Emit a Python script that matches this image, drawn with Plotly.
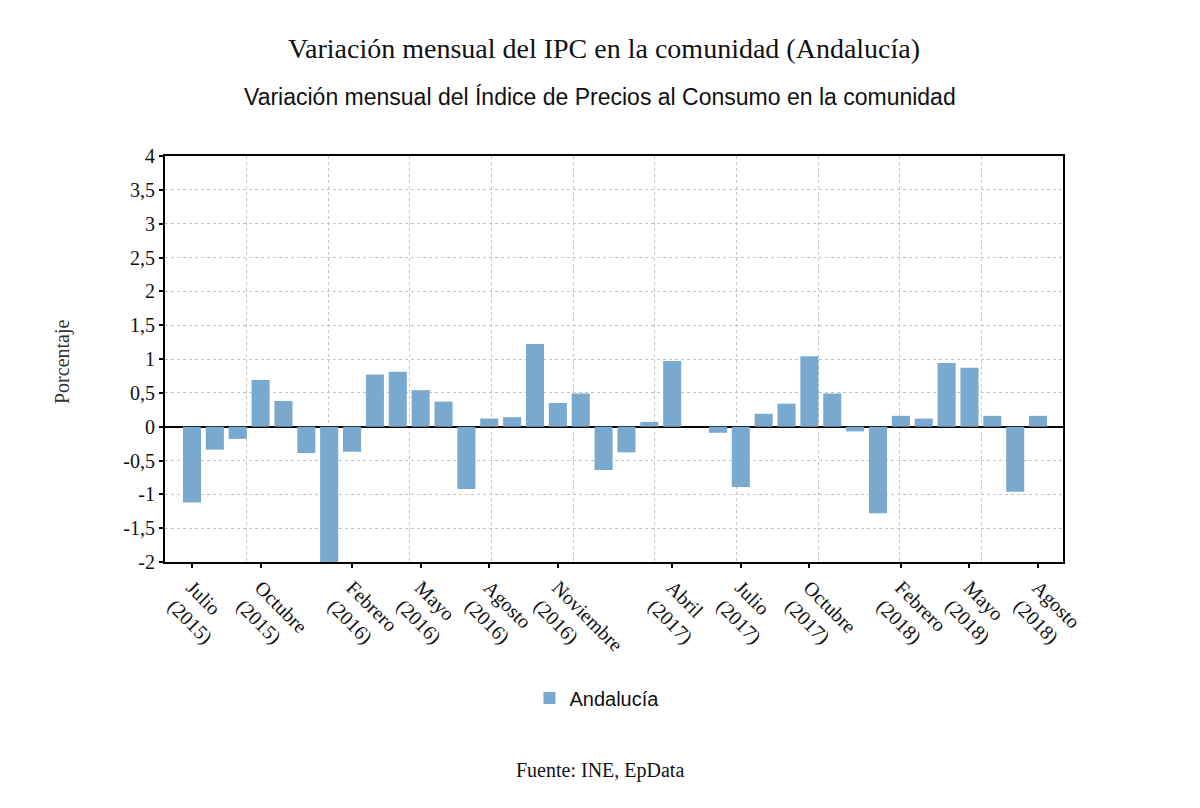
import plotly.graph_objects as go

months = ["Julio", "Agosto", "Septiembre", "Octubre", "Noviembre", "Diciembre",
          "Enero", "Febrero", "Marzo", "Abril", "Mayo", "Junio"]
years = [2015] * 6 + [2016] * 12 + [2017] * 12 + [2018] * 8
month_names = [months[i % 12] for i in range(38)]
categories = [f"{m}<br>({y})" for m, y in zip(month_names, years)]

values = [-1.12, -0.34, -0.18, 0.69, 0.38, -0.39,
          -2.00, -0.37, 0.77, 0.81, 0.54, 0.37,
          -0.92, 0.12, 0.14, 1.22, 0.35, 0.49,
          -0.64, -0.38, 0.07, 0.97, 0.00, -0.09,
          -0.89, 0.19, 0.34, 1.04, 0.49, -0.07,
          -1.28, 0.16, 0.12, 0.94, 0.87, 0.16,
          -0.96, 0.16]

label_idx = [0, 3, 7, 10, 13, 16, 21, 24, 27, 31, 34, 37]
tick_text = [categories[i] for i in label_idx]
y_ticks = [-2, -1.5, -1, -0.5, 0, 0.5, 1, 1.5, 2, 2.5, 3, 3.5, 4]
y_tick_text = [f"{v:g}".replace(".", ",") for v in y_ticks]
grid_divisions = 11

x_idx = list(range(len(values)))

fig = go.Figure()
fig.add_trace(go.Bar(
    x=x_idx, y=values, name="Andalucía",
    marker=dict(color="#7aa9cf", line=dict(width=0)),
    customdata=categories,
    hovertemplate="%{customdata}: %{y}<extra></extra>",
))
# empty helper trace so the overlaid grid axis is drawn
fig.add_trace(go.Scatter(x=[], y=[], xaxis="x2", showlegend=False, hoverinfo="skip"))

grid_dash = "3px,3px"
W, H = 1192, 800
L, T, PW, PH = 157, 148, 898, 406
fig.update_layout(
    width=W, height=H,
    paper_bgcolor="white", plot_bgcolor="white",
    separators=",.",
    margin=dict(l=L, r=W - L - PW, t=T, b=H - T - PH),
    bargap=0.21,
    showlegend=True,
    title=dict(text="Variación mensual del IPC en la comunidad (Andalucía)",
               x=0.5, xanchor="center", y=1 - 40 / H, yanchor="middle",
               font=dict(family="Liberation Serif", size=28, color="#111")),
    legend=dict(orientation="h", x=0.481, xanchor="center", y=-0.335, yanchor="middle",
                font=dict(family="Liberation Sans", size=20, color="#111")),
    xaxis=dict(range=[-1.18, 38.09], tickmode="array", tickvals=label_idx,
               ticktext=tick_text, tickangle=45, showgrid=False, zeroline=False,
               ticks="outside", ticklen=4, tickwidth=2, tickcolor="black",
               showline=True, linecolor="black", linewidth=2, mirror=True,
               tickfont=dict(family="Liberation Serif", size=20, color="#111")),
    xaxis2=dict(overlaying="x", range=[0, grid_divisions], dtick=1, tick0=0,
                showgrid=True, gridcolor="#c4c4c4", griddash=grid_dash, gridwidth=1,
                showticklabels=False, ticks="", zeroline=False, showline=False,
                anchor="y", side="bottom"),
    yaxis=dict(range=[-2, 4], tickmode="array", tickvals=y_ticks, ticktext=y_tick_text,
               showgrid=True, gridcolor="#c4c4c4", griddash=grid_dash, gridwidth=1,
               zeroline=True, zerolinecolor="black", zerolinewidth=2,
               ticks="outside", ticklen=4, tickwidth=2, tickcolor="black",
               showline=True, linecolor="black", linewidth=2, mirror=True,
               tickfont=dict(family="Liberation Serif", size=20, color="#111")),
    annotations=[
        dict(text="Variación mensual del Índice de Precios al Consumo en la comunidad",
             xref="paper", yref="paper", x=0.484, y=(554 - 89) / PH,
             xanchor="center", yanchor="middle", showarrow=False,
             font=dict(family="Liberation Sans", size=23, color="#111")),
        dict(text="Porcentaje", xref="paper", yref="paper",
             x=(54 - L) / PW, y=(554 - 354) / PH, textangle=-90,
             xanchor="center", yanchor="middle", showarrow=False,
             font=dict(family="Liberation Serif", size=20, color="#333")),
        dict(text="Fuente: INE, EpData", xref="paper", yref="paper",
             x=0.484, y=(554 - 762) / PH, xanchor="center", yanchor="middle",
             showarrow=False,
             font=dict(family="Liberation Serif", size=20, color="#111")),
    ],
)

fig.write_html("out.html")
